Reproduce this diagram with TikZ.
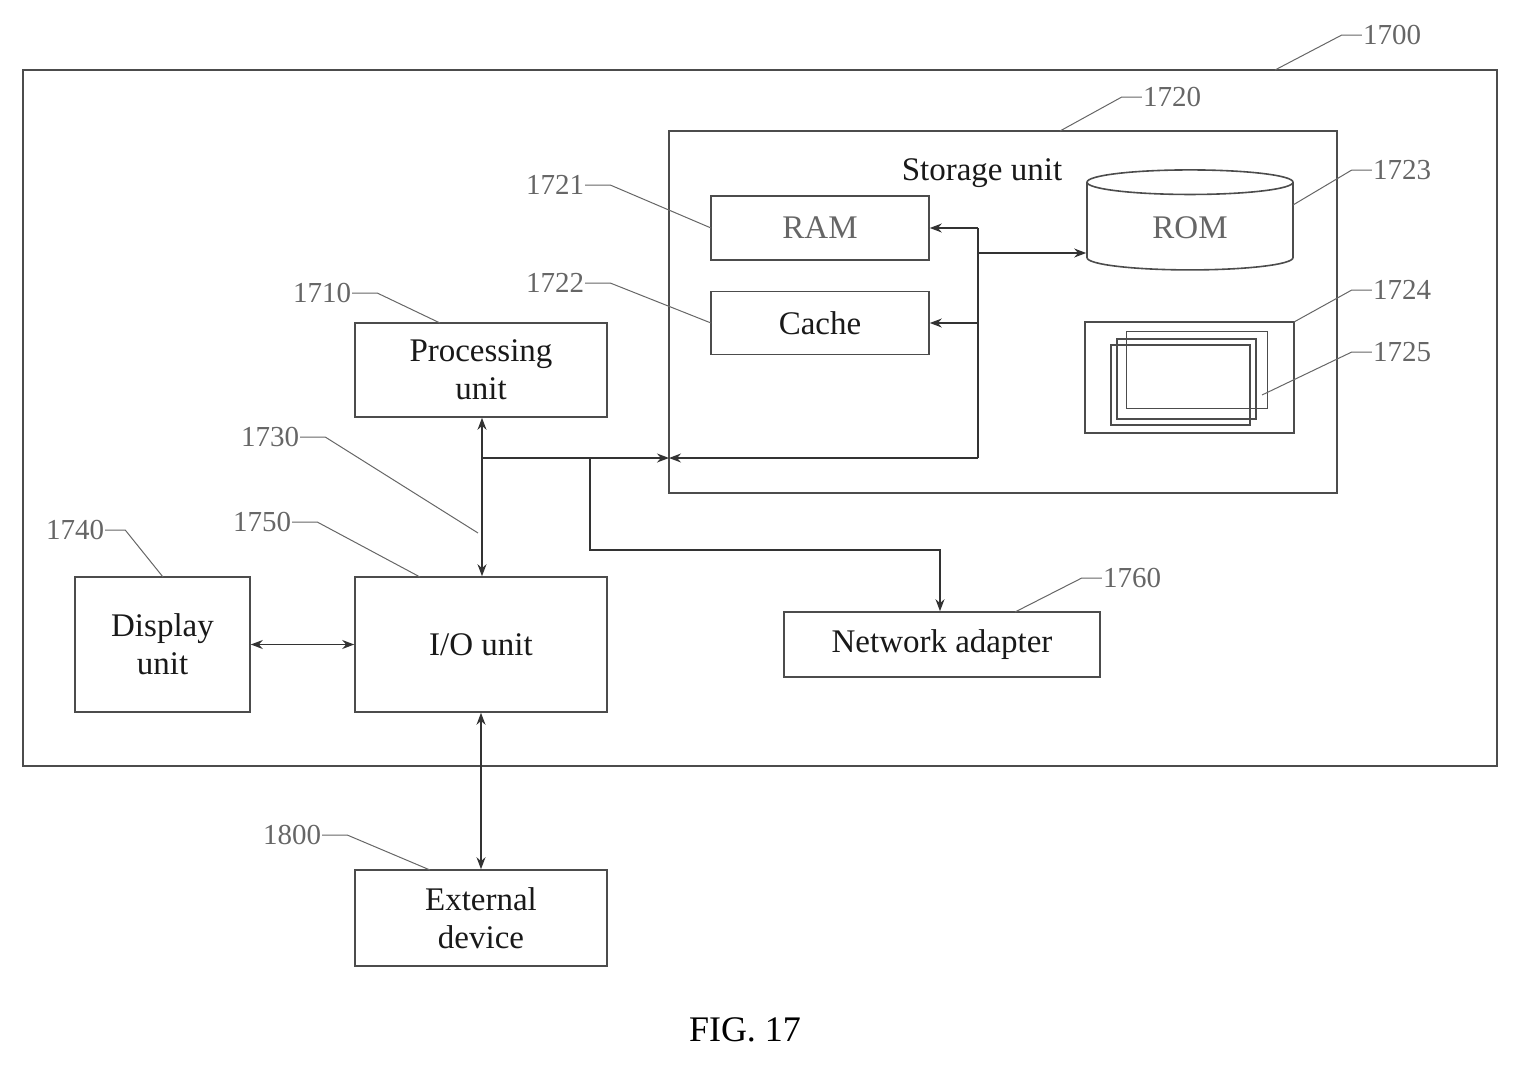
\documentclass[tikz,border=0pt]{standalone}
\usepackage{fontspec}
\setmainfont{Liberation Serif}
\usetikzlibrary{arrows.meta,shapes.geometric}
\begin{document}
\begin{tikzpicture}[x=1pt,y=-1pt,
  box/.style={draw=black!70,line width=1.6pt},
  txt/.style={font=\fontsize{33}{38}\selectfont,align=center,text=black!90},
  lbl/.style={font=\fontsize{29}{32}\selectfont,text=black!60,inner sep=1pt},
  lead/.style={draw=black!60,line width=1pt},
  con/.style={draw=black!80,line width=1.4pt},
  arr/.style={con,-{Stealth[length=12pt,width=9pt]}},
  darr/.style={con,{Stealth[length=12pt,width=9pt]}-{Stealth[length=12pt,width=9pt]}}]
\useasboundingbox (0,0) rectangle (1519,1068);
\draw[box] (23,70) rectangle (1497,766);
\draw[box] (669,131) rectangle (1337,493);
\node[txt] (st) at (982,173) {Storage unit};
\node[box,txt,minimum width=218pt,minimum height=64pt,text=black!60] (ram) at (820,228) {RAM};
\node[box,txt,minimum width=218pt,minimum height=63pt] (cache) at (820,323) {Cache};
\node[cylinder,shape border rotate=90,aspect=0.3,box,minimum width=206pt,minimum height=100pt,txt,text=black!60] (rom) at (1190,228) {ROM};
\node[box,minimum width=209pt,minimum height=111pt] (b1724) at (1189.5,377.5) {};
\draw[box,line width=1.2pt] (1111,345) rectangle (1250,425);
\draw[box,line width=1.2pt] (1117,339) rectangle (1256,419);
\node[box,line width=1.2pt,minimum width=141pt,minimum height=77pt] (b1725) at (1197,370) {};
\node[box,txt,minimum width=252pt,minimum height=94pt] (proc) at (481,370) {Processing\\unit};
\node[box,txt,minimum width=252pt,minimum height=135pt] (io) at (481,644.5) {I/O unit};
\node[box,txt,minimum width=175pt,minimum height=135pt] (disp) at (162.5,644.5) {Display\\unit};
\node[box,txt,minimum width=252pt,minimum height=96pt] (ext) at (481,918) {External\\device};
\node[box,txt,minimum width=316pt,minimum height=65pt] (net) at (942,644.5) {Network adapter};
\node[font=\fontsize{36}{40}\selectfont] (fig) at (745,1030) {FIG. 17};
% buses
\coordinate (j1) at (482,458);
\coordinate (j2) at (590,458);
\coordinate (sb) at (669,458);
\coordinate (ib) at (978,458);
\draw[darr] (proc.south -| j1) -- (io.north -| j1);
\draw[con] (j1) -- (j2);
\draw[arr] (j2) -- (sb);
\draw[con] (ib) -- (978,228);
\draw[arr] (ib) -- (sb);
\draw[arr] (978,228) -- (ram.east);
\draw[arr] (978,323) -- (cache.east);
\draw[arr] (978,253) -- (rom.west |- 0,253);
\draw[arr] (j2) -- (590,550) -- (940,550) -- (net.north -| 940,0);
\draw[darr] (disp.east) -- (io.west);
\draw[darr] (io.south) -- (ext.north);
% labels
\node[lbl] (l1700) at (1392,35) {1700};
\draw[lead] (l1700.west) -- ++(-20,0) -- (1275,70);
\node[lbl] (l1720) at (1172,97) {1720};
\draw[lead] (l1720.west) -- ++(-20,0) -- (1060,131);
\node[lbl] (l1721) at (555,185) {1721};
\draw[lead] (l1721.east) -- ++(25,0) -- (711,228);
\node[lbl] (l1722) at (555,283) {1722};
\draw[lead] (l1722.east) -- ++(25,0) -- (711,323);
\node[lbl] (l1723) at (1402,170) {1723};
\draw[lead] (l1723.west) -- ++(-20,0) -- (1293,205);
\node[lbl] (l1724) at (1402,290) {1724};
\draw[lead] (l1724.west) -- ++(-20,0) -- (1294,322);
\node[lbl] (l1725) at (1402,352) {1725};
\draw[lead] (l1725.west) -- ++(-20,0) -- (1262,395);
\node[lbl] (l1710) at (322,293) {1710};
\draw[lead] (l1710.east) -- ++(25,0) -- (440,323);
\node[lbl] (l1730) at (270,437) {1730};
\draw[lead] (l1730.east) -- ++(25,0) -- (478,533);
\node[lbl] (l1750) at (262,522) {1750};
\draw[lead] (l1750.east) -- ++(25,0) -- (420,577);
\node[lbl] (l1740) at (75,530) {1740};
\draw[lead] (l1740.east) -- ++(20,0) -- (163,577);
\node[lbl] (l1760) at (1132,578) {1760};
\draw[lead] (l1760.west) -- ++(-20,0) -- (1015,612);
\node[lbl] (l1800) at (292,835) {1800};
\draw[lead] (l1800.east) -- ++(25,0) -- (430,870);
\end{tikzpicture}
\end{document}
